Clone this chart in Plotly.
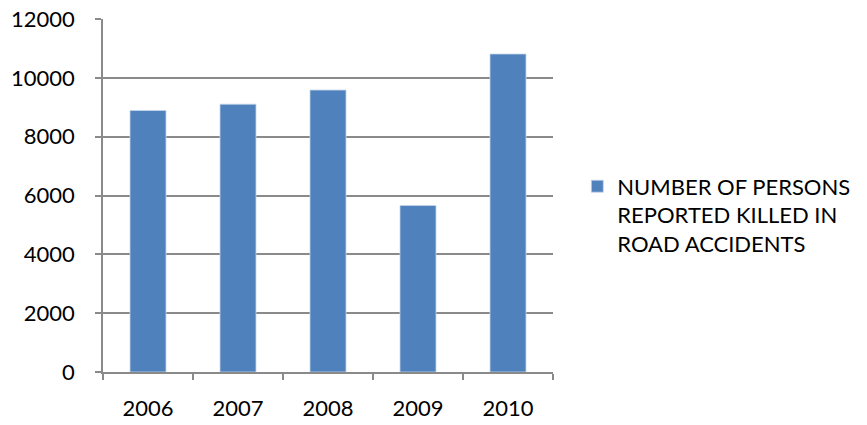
import plotly.graph_objects as go

years = ["2006", "2007", "2008", "2009", "2010"]
killed = [8890, 9105, 9585, 5660, 10810]
series_name = "NUMBER OF PERSONS<br>REPORTED KILLED IN<br>ROAD ACCIDENTS"
y_ticks = [0, 2000, 4000, 6000, 8000, 10000, 12000]

grid = "#8a8a8a"
fig = go.Figure()
fig.add_trace(go.Bar(
    x=years, y=killed, name=series_name,
    marker=dict(color="#4F81BD", line=dict(color="#c6d5ea", width=0.8)),
    showlegend=True,
))
fig.update_layout(
    width=867, height=425,
    margin=dict(l=103, r=311, t=19, b=53),
    paper_bgcolor="white", plot_bgcolor="white",
    font=dict(family="Lato", size=22, color="#000000"),
    bargap=0.6,
    showlegend=True,
    legend=dict(x=1.054, y=0.445, xanchor="left", yanchor="middle",
                valign="top", font=dict(size=22), itemwidth=30,
                borderwidth=0, tracegroupgap=0),
)
fig.update_yaxes(
    range=[0, 12000], tickvals=y_ticks, ticktext=[str(v) for v in y_ticks],
    showgrid=True, gridcolor=grid, gridwidth=1.5,
    showline=True, linecolor=grid, linewidth=1.5,
    ticks="outside", ticklen=6, tickcolor=grid, tickwidth=1.5,
    ticklabelstandoff=16, zeroline=False, automargin=False,
)
fig.update_xaxes(
    type="category", tickson="boundaries",
    showline=True, linecolor=grid, linewidth=1.5,
    ticks="outside", ticklen=6, tickcolor=grid, tickwidth=1.5,
    ticklabelstandoff=16, showgrid=False, automargin=False,
)
fig.write_html("out.html", config={"displayModeBar": False},
               post_script="document.body.style.margin='0';document.body.style.overflow='hidden';")
